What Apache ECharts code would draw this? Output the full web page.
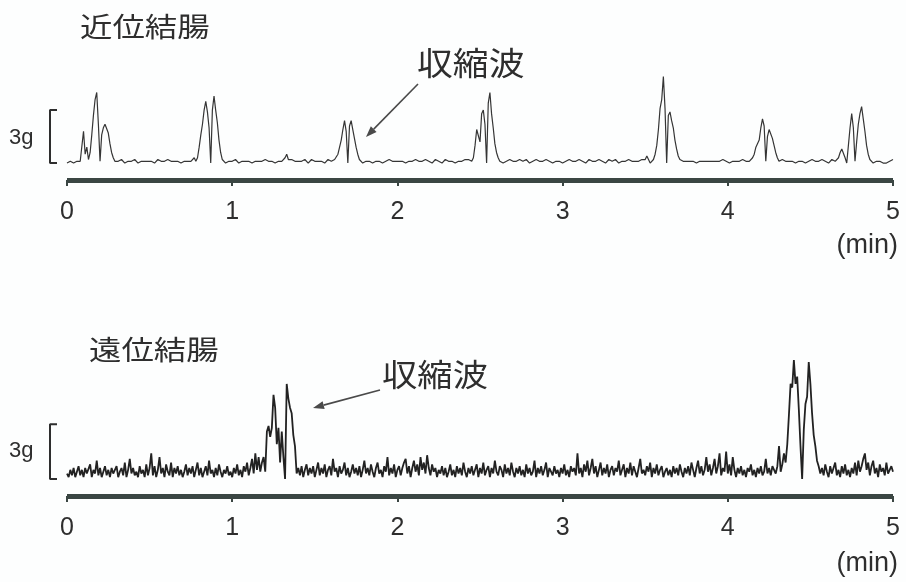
<!DOCTYPE html>
<html><head><meta charset="utf-8">
<script src="https://cdn.jsdelivr.net/npm/echarts@6.0.0/dist/echarts.min.js"></script>
<style>html,body{margin:0;padding:0;background:#fdfefe}#c{width:906px;height:582px}</style>
</head><body><div id="c"></div><script>
// time axis (min) and tick labels
const tickLabels = ['0','1','2','3','4','5'];
const sampleStepMin = 0.01; // one sample every 0.01 min, 0..5 min
const scaleBarG = [0, 3];   // 3 g scale bar

// proximal colon force (g)
const proximalForce = [
 0.0,0.0,0.1,0.0,0.0,0.1,0.1,0.0,0.1,0.2,1.8,0.5,0.9,0.2,0.6,1.6,2.7,3.6,4.0,2.2,0.1,1.6,2.0,2.2,2.1,
 1.7,1.1,0.6,0.3,0.1,0.2,0.1,0.1,0.2,0.1,0.0,0.1,0.1,0.0,0.1,0.1,0.2,0.1,0.0,0.1,0.1,0.0,0.1,0.2,0.1,
 0.0,0.1,0.1,0.0,0.1,0.2,0.1,0.1,0.0,0.1,0.1,0.2,0.1,0.1,0.0,0.1,0.2,0.1,0.1,0.0,0.1,0.1,0.2,0.1,0.1,
 0.1,0.2,0.3,0.1,0.3,0.9,1.6,2.2,3.0,3.5,2.9,2.0,0.0,3.0,3.8,3.0,2.3,1.3,0.6,0.2,0.1,0.0,0.1,0.1,0.0,
 0.1,0.1,0.2,0.1,0.0,0.1,0.1,0.0,0.1,0.2,0.1,0.1,0.0,0.1,0.1,0.2,0.1,0.0,0.1,0.1,0.2,0.1,0.1,0.0,0.1,
 0.1,0.0,0.1,0.1,0.2,0.1,0.1,0.3,0.5,0.2,0.1,0.2,0.1,0.1,0.0,0.1,0.2,0.1,0.1,0.2,0.1,0.0,0.1,0.2,0.1,
 0.1,0.0,0.1,0.2,0.1,0.1,0.0,0.1,0.2,0.1,0.1,0.1,0.2,0.2,0.5,0.9,1.3,1.9,2.4,1.8,0.0,2.1,2.4,1.9,1.4,
 0.9,0.5,0.2,0.1,0.0,0.1,0.1,0.0,0.1,0.1,0.0,0.1,0.1,0.2,0.1,0.1,0.0,0.1,0.1,0.1,0.2,0.1,0.1,0.0,0.1,
 0.1,0.1,0.2,0.1,0.1,0.0,0.1,0.1,0.2,0.1,0.1,0.2,0.1,0.1,0.0,0.1,0.1,0.2,0.1,0.1,0.1,0.0,0.1,0.2,0.1,
 0.1,0.1,0.0,0.1,0.2,0.1,0.1,0.2,0.1,0.1,0.0,0.1,0.1,0.2,0.1,0.1,0.2,0.1,0.2,0.1,0.1,0.3,1.0,1.9,2.0,
 1.2,2.8,3.0,2.2,0.0,3.4,4.0,2.8,2.0,1.1,0.6,0.3,0.1,0.1,0.0,0.1,0.1,0.1,0.2,0.1,0.1,0.0,0.1,0.1,0.2,
 0.1,0.1,0.1,0.2,0.1,0.0,0.1,0.1,0.1,0.2,0.1,0.1,0.0,0.1,0.1,0.2,0.1,0.1,0.1,0.0,0.1,0.1,0.2,0.1,0.1,
 0.0,0.1,0.1,0.1,0.2,0.1,0.1,0.0,0.1,0.1,0.2,0.1,0.1,0.1,0.0,0.1,0.2,0.1,0.1,0.0,0.1,0.1,0.2,0.1,0.1,
 0.1,0.0,0.1,0.2,0.1,0.1,0.1,0.2,0.1,0.0,0.1,0.1,0.2,0.1,0.1,0.2,0.1,0.1,0.2,0.1,0.2,0.1,0.1,0.2,0.1,
 0.2,0.4,0.2,0.0,0.1,0.2,0.5,1.0,1.9,3.1,3.6,4.9,3.1,0.0,2.7,2.9,2.4,2.0,1.3,0.8,0.4,0.2,0.1,0.1,0.0,
 0.1,0.1,0.1,0.2,0.1,0.1,0.0,0.1,0.1,0.2,0.1,0.1,0.1,0.0,0.1,0.2,0.1,0.1,0.1,0.0,0.1,0.1,0.2,0.1,0.1,
 0.1,0.0,0.1,0.1,0.2,0.1,0.0,0.1,0.1,0.2,0.1,0.1,0.2,0.1,0.1,0.3,0.5,0.9,1.0,1.3,2.0,2.5,2.1,0.1,1.5,
 1.9,1.8,1.4,1.0,0.6,0.3,0.1,0.1,0.2,0.1,0.1,0.0,0.1,0.2,0.1,0.1,0.0,0.1,0.1,0.2,0.1,0.1,0.0,0.1,0.1,
 0.1,0.2,0.1,0.1,0.0,0.1,0.1,0.2,0.1,0.1,0.1,0.0,0.1,0.2,0.1,0.1,0.1,0.3,0.6,0.8,0.8,0.3,0.0,1.0,2.0,
 2.8,2.0,0.1,1.2,2.2,2.8,3.2,2.5,1.8,1.0,0.5,0.2,0.1,0.0,0.1,0.1,0.0,0.1,0.1,0.0,0.1,0.0,0.1,0.1,0.1,
 0.2
];

// distal colon force (g)
const distalForce = [
 0.3,0.1,0.5,0.2,0.6,0.1,0.4,0.7,0.2,0.5,0.1,0.6,0.3,0.2,0.8,0.1,0.5,0.3,1.0,0.2,0.6,0.1,0.4,0.7,0.2,
 0.5,0.1,0.6,0.3,0.2,0.7,0.1,0.4,0.6,0.2,0.9,0.1,0.5,1.1,0.3,0.6,0.2,0.4,0.1,0.7,0.3,0.5,0.1,0.8,0.2,
 0.6,1.4,0.2,0.7,0.1,0.5,1.2,0.3,0.6,0.1,0.8,0.4,0.2,0.9,0.1,0.6,0.3,0.7,0.2,0.5,0.1,0.4,0.8,0.2,0.6,
 0.3,0.7,0.1,0.5,0.9,0.2,0.6,0.1,0.4,0.7,0.2,1.0,0.3,0.5,0.1,0.6,0.2,0.8,0.4,0.1,0.5,0.3,0.7,0.2,0.4,
 0.1,0.6,0.3,0.8,0.2,0.5,0.1,0.7,0.4,0.9,0.2,0.6,1.1,0.3,1.4,0.5,1.2,0.4,0.9,1.2,0.4,2.6,2.9,2.3,2.8,
 4.6,3.9,1.9,2.8,0.9,2.6,1.2,0.0,5.2,4.4,3.9,3.6,2.4,1.8,0.3,0.6,0.2,0.7,0.1,0.5,0.8,0.2,0.6,0.3,0.7,
 0.1,0.5,0.9,0.2,0.6,0.3,0.8,0.1,0.5,0.7,0.2,1.1,0.4,0.6,0.1,0.7,0.3,0.5,0.9,0.2,0.6,0.1,0.4,0.8,0.3,
 0.6,0.2,0.7,0.1,0.5,1.0,0.3,0.6,0.2,0.8,0.4,0.1,0.6,0.9,0.3,0.5,0.1,0.7,0.4,1.2,0.2,0.6,0.3,0.8,0.1,
 0.5,0.7,0.2,0.6,0.9,1.1,0.3,0.7,0.1,0.6,1.0,0.4,0.8,0.2,1.2,0.5,0.9,0.3,1.3,0.6,0.2,0.8,0.4,0.6,0.1,
 0.5,0.3,0.7,0.2,0.6,0.1,0.4,0.8,0.2,0.5,0.1,0.7,0.3,0.6,0.2,0.9,0.4,0.1,0.6,0.3,0.7,0.2,0.5,0.8,0.1,
 0.6,0.3,0.9,0.2,0.5,0.7,0.1,0.6,0.3,1.0,0.4,0.2,0.7,0.5,0.1,0.8,0.3,0.6,0.2,0.9,0.4,0.1,0.6,0.3,0.7,
 0.2,0.5,0.1,0.8,0.3,0.6,0.2,0.4,1.0,0.1,0.6,0.3,0.7,0.2,0.5,0.9,0.1,0.6,0.4,0.2,0.7,0.3,0.5,0.1,0.6,
 0.3,0.8,0.2,0.5,0.1,0.7,0.4,0.6,0.2,1.4,0.3,0.6,0.1,0.8,0.4,1.0,0.2,0.6,1.1,0.3,0.7,0.1,0.5,0.9,0.2,
 0.6,0.3,0.8,0.1,0.5,0.7,0.2,0.6,0.4,1.0,0.2,0.5,0.8,0.1,0.6,0.3,0.9,0.2,0.7,0.4,0.1,0.6,1.1,0.3,0.5,
 0.2,0.7,0.4,0.9,0.1,0.6,0.3,0.8,0.2,0.5,0.7,0.1,0.4,0.6,0.2,0.5,0.1,0.7,0.3,0.6,0.2,0.8,0.4,0.1,0.6,
 0.3,0.7,0.2,0.9,0.5,0.1,0.6,1.0,0.3,0.7,0.2,0.5,1.2,0.4,0.8,0.2,0.6,1.1,0.3,0.7,1.4,0.2,0.6,0.4,1.5,
 0.3,0.8,0.2,1.2,0.5,0.1,0.6,0.3,0.7,0.2,0.5,0.1,0.6,0.4,0.8,0.2,0.5,0.1,0.6,0.3,0.7,0.2,0.4,1.1,0.3,
 0.6,0.2,0.7,0.5,0.3,0.7,1.8,0.4,0.8,1.4,0.9,1.9,3.5,5.2,5.0,6.5,5.2,5.6,3.8,1.8,0.0,2.7,4.1,4.5,6.4,
 5.2,3.6,2.4,1.8,1.0,0.7,0.3,0.6,0.2,0.8,0.4,0.1,0.7,0.3,0.6,0.9,0.2,0.5,0.1,0.7,0.3,0.8,0.2,0.5,0.1,
 0.6,0.3,0.9,0.2,1.0,0.4,0.7,1.1,1.4,0.5,0.9,0.2,0.7,1.0,0.3,0.6,0.1,0.8,0.4,0.6,0.2,0.9,0.3,0.5,0.7,
 0.4
];

const panelTitles = ['近位結腸', '遠位結腸'];
const waveLabel = '収縮波';
const scaleLabel = '3g';
const unitLabel = '(min)';

const INK = '#2e2e2e';
const BAR = '#3a4643';
const NUMFONT = '"Liberation Sans", Arial, sans-serif';
const CJK = '"Noto Sans CJK JP", "Noto Sans CJK SC", sans-serif';

function toSeries(arr){ return arr.map((v,i)=>[+(i*sampleStepMin).toFixed(2), v]); }

function timeAxis(gi){
  return {
    gridIndex: gi, type:'value', min:0, max:5, interval:1,
    axisLine:{show:true, onZero:false, lineStyle:{color:BAR, width:5, cap:'butt'}},
    axisTick:{show:true, length:6, lineStyle:{color:BAR, width:2}},
    axisLabel:{show:true, margin:20, fontSize:25, color:INK, fontFamily:NUMFONT,
      formatter:(v)=>tickLabels[Math.round(v)] ?? ''},
    splitLine:{show:false}
  };
}
function hiddenX(gi){ return {gridIndex:gi, type:'value', min:0, max:1, show:false}; }
function forceAxis(gi, mn, mx){ return {gridIndex:gi, type:'value', min:mn, max:mx, show:false}; }

function arrow(x1,y1,x2,y2){
  const dx=x2-x1, dy=y2-y1, L=Math.hypot(dx,dy), ux=dx/L, uy=dy/L;
  const hl=11, hw=4;
  const bx=x2-ux*hl, by=y2-uy*hl;
  return [
    {type:'line', shape:{x1:x1,y1:y1,x2:bx,y2:by}, style:{stroke:'#4a4a4a', lineWidth:1.6}},
    {type:'polygon', shape:{points:[[x2,y2],[bx-uy*hw,by+ux*hw],[bx+uy*hw,by-ux*hw]]}, style:{fill:'#4a4a4a'}}
  ];
}
function txt(x,y,text,size,family,align,sx){
  return {type:'text', x:x, y:y, scaleX:sx||1, style:{text:text, fontSize:size, fontFamily:family, fill:INK,
    align:align||'left', textAlign:align||'left', verticalAlign:'middle', textVerticalAlign:'middle'}};
}

const bracketShape = [[1,scaleBarG[0]],[0,scaleBarG[0]],[0,scaleBarG[1]],[1,scaleBarG[1]]];

const option = {
  animation:false,
  backgroundColor:'#fdfefe',
  grid:[
    {left:67, right:13, top:66, height:114},
    {left:67, right:13, top:351, height:145},
    {left:50, width:7, top:66, height:114},
    {left:50, width:7, top:351, height:145}
  ],
  xAxis:[timeAxis(0), timeAxis(1), hiddenX(2), hiddenX(3)],
  yAxis:[forceAxis(0,-0.96,5.5), forceAxis(1,-0.93,7.0), forceAxis(2,-0.96,5.5), forceAxis(3,-0.93,7.0)],
  series:[
    {type:'line', xAxisIndex:0, yAxisIndex:0, data:toSeries(proximalForce), showSymbol:false, symbol:'none',
      lineStyle:{color:'#353535', width:1.2}, silent:true},
    {type:'line', xAxisIndex:1, yAxisIndex:1, data:toSeries(distalForce), showSymbol:false, symbol:'none',
      lineStyle:{color:'#222222', width:1.8}, silent:true},
    {type:'line', xAxisIndex:2, yAxisIndex:2, data:bracketShape, showSymbol:false, symbol:'none',
      lineStyle:{color:INK, width:2}, silent:true},
    {type:'line', xAxisIndex:3, yAxisIndex:3, data:bracketShape, showSymbol:false, symbol:'none',
      lineStyle:{color:INK, width:2}, silent:true}
  ],
  graphic:[
    txt(80, 27, panelTitles[0], 27, CJK, 'left', 1.2),
    txt(89, 350, panelTitles[1], 27, CJK, 'left', 1.2),
    txt(417, 63, waveLabel, 32, CJK, 'left', 1.12),
    txt(382, 374, waveLabel, 31, CJK, 'left', 1.14),
    txt(9, 138, scaleLabel, 22, NUMFONT),
    txt(9, 451, scaleLabel, 22, NUMFONT),
    txt(898, 246, unitLabel, 27, NUMFONT, 'right'),
    txt(898, 564, unitLabel, 27, NUMFONT, 'right'),
    ...arrow(418,84,366,137),
    ...arrow(380,390,313,408)
  ]
};
const chart = echarts.init(document.getElementById('c'), null, {renderer:'canvas'});
chart.setOption(option);
</script></body></html>
